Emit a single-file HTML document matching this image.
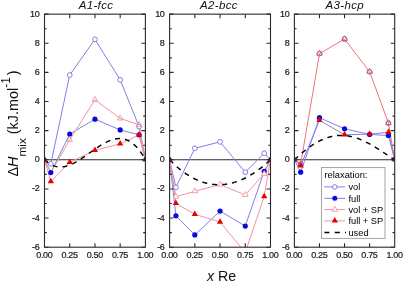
<!DOCTYPE html><html><head><meta charset="utf-8"><style>html,body{margin:0;padding:0;background:#fff;width:403px;height:281px;overflow:hidden}svg{display:block;filter:blur(0.3px)}text{font-family:"Liberation Sans",sans-serif}</style></head><body>
<svg width="403" height="281" viewBox="0 0 403 281">
<defs><clipPath id="c0"><rect x="44.50" y="14.15" width="100.90" height="233.05"/></clipPath></defs>
<line x1="44.50" y1="159.81" x2="145.40" y2="159.81" stroke="#2a2a2a" stroke-width="1.1"/>
<g clip-path="url(#c0)">
<polyline points="44.50,159.81 50.81,163.88 69.72,75.03 94.95,39.35 120.18,79.84 139.09,126.60 145.40,159.81" fill="none" stroke="#8080e4" stroke-width="1.0"/>
<polyline points="44.50,159.81 50.81,172.62 69.72,134.03 94.95,119.17 120.18,129.95 139.09,134.75 145.40,159.81" fill="none" stroke="#8080e4" stroke-width="1.0"/>
<polyline points="44.50,159.81 50.81,172.62 69.72,139.85 94.95,99.80 120.18,118.44 139.09,124.85 145.40,159.81" fill="none" stroke="#ee94a0" stroke-width="1.0"/>
<polyline points="44.50,159.81 50.81,181.65 69.72,162.28 94.95,150.34 120.18,143.78 139.09,134.90 145.40,159.81" fill="none" stroke="#ee94a0" stroke-width="1.0"/>
<polyline points="44.50,159.81 45.51,160.75 46.52,161.62 47.53,162.42 48.54,163.14 49.55,163.80 50.55,164.39 51.56,164.91 52.57,165.37 53.58,165.77 54.59,166.11 55.60,166.38 56.61,166.60 57.62,166.77 58.63,166.88 59.63,166.94 60.64,166.94 61.65,166.90 62.66,166.81 63.67,166.68 64.68,166.50 65.69,166.28 66.70,166.02 67.71,165.72 68.72,165.38 69.72,165.01 70.73,164.60 71.74,164.16 72.75,163.70 73.76,163.20 74.77,162.68 75.78,162.13 76.79,161.55 77.80,160.96 78.81,160.34 79.81,159.71 80.82,159.06 81.83,158.39 82.84,157.72 83.85,157.03 84.86,156.32 85.87,155.62 86.88,154.90 87.89,154.18 88.90,153.46 89.91,152.73 90.91,152.00 91.92,151.28 92.93,150.56 93.94,149.85 94.95,149.14 95.96,148.44 96.97,147.75 97.98,147.07 98.99,146.41 100.00,145.76 101.00,145.13 102.01,144.51 103.02,143.92 104.03,143.35 105.04,142.80 106.05,142.28 107.06,141.79 108.07,141.32 109.08,140.89 110.09,140.48 111.09,140.12 112.10,139.78 113.11,139.49 114.12,139.23 115.13,139.01 116.14,138.84 117.15,138.71 118.16,138.62 119.17,138.59 120.18,138.60 121.18,138.66 122.19,138.78 123.20,138.95 124.21,139.17 125.22,139.46 126.23,139.80 127.24,140.20 128.25,140.67 129.26,141.20 130.26,141.79 131.27,142.46 132.28,143.19 133.29,144.00 134.30,144.87 135.31,145.82 136.32,146.85 137.33,147.96 138.34,149.14 139.35,150.41 140.36,151.76 141.36,153.19 142.37,154.71 143.38,156.32 144.39,158.02 145.40,159.81" fill="none" stroke="#000" stroke-width="1.45" stroke-dasharray="5,5"/>
<circle cx="50.81" cy="163.88" r="2.4" fill="#fff" stroke="#8080e4" stroke-width="1"/>
<circle cx="69.72" cy="75.03" r="2.4" fill="#fff" stroke="#8080e4" stroke-width="1"/>
<circle cx="94.95" cy="39.35" r="2.4" fill="#fff" stroke="#8080e4" stroke-width="1"/>
<circle cx="120.18" cy="79.84" r="2.4" fill="#fff" stroke="#8080e4" stroke-width="1"/>
<circle cx="139.09" cy="126.60" r="2.4" fill="#fff" stroke="#8080e4" stroke-width="1"/>
<circle cx="50.81" cy="172.62" r="2.6" fill="#0a0ad8"/>
<circle cx="69.72" cy="134.03" r="2.6" fill="#0a0ad8"/>
<circle cx="94.95" cy="119.17" r="2.6" fill="#0a0ad8"/>
<circle cx="120.18" cy="129.95" r="2.6" fill="#0a0ad8"/>
<circle cx="139.09" cy="134.75" r="2.6" fill="#0a0ad8"/>
<path d="M69.72,136.49 L72.52,141.36 L66.92,141.36Z" fill="none" stroke="#ee94a0" stroke-width="0.9"/>
<path d="M94.95,96.43 L97.75,101.31 L92.15,101.31Z" fill="none" stroke="#ee94a0" stroke-width="0.9"/>
<path d="M120.18,115.08 L122.98,119.95 L117.38,119.95Z" fill="none" stroke="#ee94a0" stroke-width="0.9"/>
<path d="M139.09,121.49 L141.89,126.36 L136.29,126.36Z" fill="none" stroke="#ee94a0" stroke-width="0.9"/>
<path d="M50.81,177.87 L53.96,183.35 L47.66,183.35Z" fill="#e80000" stroke="none" stroke-width="0.9"/>
<path d="M69.72,158.50 L72.88,163.98 L66.57,163.98Z" fill="#e80000" stroke="none" stroke-width="0.9"/>
<path d="M94.95,146.56 L98.10,152.04 L91.80,152.04Z" fill="#e80000" stroke="none" stroke-width="0.9"/>
<path d="M120.18,140.00 L123.33,145.48 L117.03,145.48Z" fill="#e80000" stroke="none" stroke-width="0.9"/>
<path d="M139.09,131.12 L142.24,136.60 L135.94,136.60Z" fill="#e80000" stroke="none" stroke-width="0.9"/>
<path d="M44.50,156.02 L47.65,161.51 L41.35,161.51Z" fill="#c01040" stroke="none" stroke-width="0.9"/>
<circle cx="44.50" cy="159.21" r="2.0" fill="#40102a"/>
<path d="M145.40,156.02 L148.55,161.51 L142.25,161.51Z" fill="#c01040" stroke="none" stroke-width="0.9"/>
<circle cx="145.40" cy="159.21" r="2.0" fill="#40102a"/>
</g>
<rect x="44.50" y="14.15" width="100.90" height="233.05" fill="none" stroke="#2a2a2a" stroke-width="1.1"/>
<path d="M44.50,247.20h4.0M145.40,247.20h-4.0M44.50,232.63h2.2M145.40,232.63h-2.2M44.50,218.07h4.0M145.40,218.07h-4.0M44.50,203.50h2.2M145.40,203.50h-2.2M44.50,188.94h4.0M145.40,188.94h-4.0M44.50,174.37h2.2M145.40,174.37h-2.2M44.50,159.81h4.0M145.40,159.81h-4.0M44.50,145.24h2.2M145.40,145.24h-2.2M44.50,130.67h4.0M145.40,130.67h-4.0M44.50,116.11h2.2M145.40,116.11h-2.2M44.50,101.54h4.0M145.40,101.54h-4.0M44.50,86.98h2.2M145.40,86.98h-2.2M44.50,72.41h4.0M145.40,72.41h-4.0M44.50,57.85h2.2M145.40,57.85h-2.2M44.50,43.28h4.0M145.40,43.28h-4.0M44.50,28.72h2.2M145.40,28.72h-2.2M44.50,14.15h4.0M145.40,14.15h-4.0M69.72,247.20v-4M69.72,14.15v4M94.95,247.20v-4M94.95,14.15v4M120.18,247.20v-4M120.18,14.15v4" stroke="#2a2a2a" stroke-width="1.1" fill="none"/>
<text x="39.40" y="249.70" font-size="9.0" letter-spacing="-0.35" text-anchor="end" fill="#1a1a1a" stroke="#1a1a1a" stroke-width="0.2">-6</text>
<text x="39.40" y="220.57" font-size="9.0" letter-spacing="-0.35" text-anchor="end" fill="#1a1a1a" stroke="#1a1a1a" stroke-width="0.2">-4</text>
<text x="39.40" y="191.44" font-size="9.0" letter-spacing="-0.35" text-anchor="end" fill="#1a1a1a" stroke="#1a1a1a" stroke-width="0.2">-2</text>
<text x="39.40" y="162.31" font-size="9.0" letter-spacing="-0.35" text-anchor="end" fill="#1a1a1a" stroke="#1a1a1a" stroke-width="0.2">0</text>
<text x="39.40" y="133.17" font-size="9.0" letter-spacing="-0.35" text-anchor="end" fill="#1a1a1a" stroke="#1a1a1a" stroke-width="0.2">2</text>
<text x="39.40" y="104.04" font-size="9.0" letter-spacing="-0.35" text-anchor="end" fill="#1a1a1a" stroke="#1a1a1a" stroke-width="0.2">4</text>
<text x="39.40" y="74.91" font-size="9.0" letter-spacing="-0.35" text-anchor="end" fill="#1a1a1a" stroke="#1a1a1a" stroke-width="0.2">6</text>
<text x="39.40" y="45.78" font-size="9.0" letter-spacing="-0.35" text-anchor="end" fill="#1a1a1a" stroke="#1a1a1a" stroke-width="0.2">8</text>
<text x="39.40" y="16.65" font-size="9.0" letter-spacing="-0.35" text-anchor="end" fill="#1a1a1a" stroke="#1a1a1a" stroke-width="0.2">10</text>
<text x="44.30" y="258.00" font-size="9.0" letter-spacing="-0.35" text-anchor="middle" fill="#1a1a1a" stroke="#1a1a1a" stroke-width="0.2">0.00</text>
<text x="69.52" y="258.00" font-size="9.0" letter-spacing="-0.35" text-anchor="middle" fill="#1a1a1a" stroke="#1a1a1a" stroke-width="0.2">0.25</text>
<text x="94.75" y="258.00" font-size="9.0" letter-spacing="-0.35" text-anchor="middle" fill="#1a1a1a" stroke="#1a1a1a" stroke-width="0.2">0.50</text>
<text x="119.98" y="258.00" font-size="9.0" letter-spacing="-0.35" text-anchor="middle" fill="#1a1a1a" stroke="#1a1a1a" stroke-width="0.2">0.75</text>
<text x="145.20" y="258.00" font-size="9.0" letter-spacing="-0.35" text-anchor="middle" fill="#1a1a1a" stroke="#1a1a1a" stroke-width="0.2">1.00</text>
<text x="96.0" y="8.8" font-size="11.5" font-style="italic" letter-spacing="0.35" text-anchor="middle" fill="#111">A1-fcc</text>
<defs><clipPath id="c1"><rect x="169.60" y="14.15" width="100.90" height="233.05"/></clipPath></defs>
<line x1="169.60" y1="159.81" x2="270.50" y2="159.81" stroke="#2a2a2a" stroke-width="1.1"/>
<g clip-path="url(#c1)">
<polyline points="169.60,159.81 175.91,187.34 194.82,148.30 220.05,141.89 245.28,172.19 264.19,153.25 270.50,159.81" fill="none" stroke="#8080e4" stroke-width="1.0"/>
<polyline points="169.60,159.81 175.91,215.74 194.82,234.96 220.05,211.08 245.28,226.08 264.19,171.31 270.50,159.81" fill="none" stroke="#8080e4" stroke-width="1.0"/>
<polyline points="169.60,159.81 175.91,196.66 194.82,191.27 220.05,184.57 245.28,194.91 264.19,173.93 270.50,159.81" fill="none" stroke="#ee94a0" stroke-width="1.0"/>
<polyline points="169.60,159.81 175.91,203.36 194.82,214.28 220.05,222.00 245.28,252.59 264.19,196.51 270.50,159.81" fill="none" stroke="#ee94a0" stroke-width="1.0"/>
<polyline points="169.60,159.81 170.61,160.84 171.62,161.85 172.63,162.84 173.64,163.80 174.64,164.74 175.65,165.66 176.66,166.56 177.67,167.43 178.68,168.29 179.69,169.12 180.70,169.92 181.71,170.71 182.72,171.47 183.73,172.21 184.73,172.93 185.74,173.63 186.75,174.30 187.76,174.96 188.77,175.59 189.78,176.20 190.79,176.79 191.80,177.35 192.81,177.90 193.82,178.42 194.82,178.92 195.83,179.40 196.84,179.86 197.85,180.30 198.86,180.72 199.87,181.11 200.88,181.49 201.89,181.84 202.90,182.17 203.91,182.49 204.91,182.78 205.92,183.05 206.93,183.30 207.94,183.52 208.95,183.73 209.96,183.92 210.97,184.09 211.98,184.23 212.99,184.36 214.00,184.47 215.00,184.55 216.01,184.62 217.02,184.66 218.03,184.69 219.04,184.69 220.05,184.68 221.06,184.64 222.07,184.59 223.08,184.51 224.09,184.42 225.09,184.31 226.10,184.17 227.11,184.02 228.12,183.85 229.13,183.66 230.14,183.44 231.15,183.21 232.16,182.96 233.17,182.70 234.18,182.41 235.19,182.10 236.19,181.77 237.20,181.43 238.21,181.07 239.22,180.68 240.23,180.28 241.24,179.86 242.25,179.42 243.26,178.97 244.27,178.49 245.28,178.00 246.28,177.48 247.29,176.95 248.30,176.40 249.31,175.83 250.32,175.25 251.33,174.64 252.34,174.02 253.35,173.38 254.36,172.72 255.37,172.05 256.37,171.35 257.38,170.64 258.39,169.91 259.40,169.17 260.41,168.40 261.42,167.62 262.43,166.82 263.44,166.01 264.45,165.17 265.45,164.32 266.46,163.45 267.47,162.57 268.48,161.66 269.49,160.74 270.50,159.81" fill="none" stroke="#000" stroke-width="1.45" stroke-dasharray="5,5"/>
<circle cx="175.91" cy="187.34" r="2.4" fill="#fff" stroke="#8080e4" stroke-width="1"/>
<circle cx="194.82" cy="148.30" r="2.4" fill="#fff" stroke="#8080e4" stroke-width="1"/>
<circle cx="220.05" cy="141.89" r="2.4" fill="#fff" stroke="#8080e4" stroke-width="1"/>
<circle cx="245.28" cy="172.19" r="2.4" fill="#fff" stroke="#8080e4" stroke-width="1"/>
<circle cx="264.19" cy="153.25" r="2.4" fill="#fff" stroke="#8080e4" stroke-width="1"/>
<circle cx="175.91" cy="215.74" r="2.6" fill="#0a0ad8"/>
<circle cx="194.82" cy="234.96" r="2.6" fill="#0a0ad8"/>
<circle cx="220.05" cy="211.08" r="2.6" fill="#0a0ad8"/>
<circle cx="245.28" cy="226.08" r="2.6" fill="#0a0ad8"/>
<circle cx="264.19" cy="171.31" r="2.6" fill="#0a0ad8"/>
<path d="M175.91,193.30 L178.71,198.17 L173.11,198.17Z" fill="#fff" stroke="#ee94a0" stroke-width="0.9"/>
<path d="M194.82,187.91 L197.62,192.78 L192.02,192.78Z" fill="#fff" stroke="#ee94a0" stroke-width="0.9"/>
<path d="M220.05,181.21 L222.85,186.08 L217.25,186.08Z" fill="#fff" stroke="#ee94a0" stroke-width="0.9"/>
<path d="M245.28,191.55 L248.08,196.42 L242.47,196.42Z" fill="#fff" stroke="#ee94a0" stroke-width="0.9"/>
<path d="M264.19,170.57 L266.99,175.45 L261.39,175.45Z" fill="#fff" stroke="#ee94a0" stroke-width="0.9"/>
<path d="M175.91,199.58 L179.06,205.06 L172.76,205.06Z" fill="#e80000" stroke="none" stroke-width="0.9"/>
<path d="M194.82,210.50 L197.97,215.98 L191.67,215.98Z" fill="#e80000" stroke="none" stroke-width="0.9"/>
<path d="M220.05,218.22 L223.20,223.70 L216.90,223.70Z" fill="#e80000" stroke="none" stroke-width="0.9"/>
<path d="M245.28,248.81 L248.43,254.29 L242.12,254.29Z" fill="#e80000" stroke="none" stroke-width="0.9"/>
<path d="M264.19,192.73 L267.34,198.21 L261.04,198.21Z" fill="#e80000" stroke="none" stroke-width="0.9"/>
<path d="M169.60,156.02 L172.75,161.51 L166.45,161.51Z" fill="#c01040" stroke="none" stroke-width="0.9"/>
<circle cx="169.60" cy="159.21" r="2.0" fill="#40102a"/>
<path d="M270.50,156.02 L273.65,161.51 L267.35,161.51Z" fill="#c01040" stroke="none" stroke-width="0.9"/>
<circle cx="270.50" cy="159.21" r="2.0" fill="#40102a"/>
</g>
<rect x="169.60" y="14.15" width="100.90" height="233.05" fill="none" stroke="#2a2a2a" stroke-width="1.1"/>
<path d="M169.60,247.20h4.0M270.50,247.20h-4.0M169.60,232.63h2.2M270.50,232.63h-2.2M169.60,218.07h4.0M270.50,218.07h-4.0M169.60,203.50h2.2M270.50,203.50h-2.2M169.60,188.94h4.0M270.50,188.94h-4.0M169.60,174.37h2.2M270.50,174.37h-2.2M169.60,159.81h4.0M270.50,159.81h-4.0M169.60,145.24h2.2M270.50,145.24h-2.2M169.60,130.67h4.0M270.50,130.67h-4.0M169.60,116.11h2.2M270.50,116.11h-2.2M169.60,101.54h4.0M270.50,101.54h-4.0M169.60,86.98h2.2M270.50,86.98h-2.2M169.60,72.41h4.0M270.50,72.41h-4.0M169.60,57.85h2.2M270.50,57.85h-2.2M169.60,43.28h4.0M270.50,43.28h-4.0M169.60,28.72h2.2M270.50,28.72h-2.2M169.60,14.15h4.0M270.50,14.15h-4.0M194.82,247.20v-4M194.82,14.15v4M220.05,247.20v-4M220.05,14.15v4M245.28,247.20v-4M245.28,14.15v4" stroke="#2a2a2a" stroke-width="1.1" fill="none"/>
<text x="164.50" y="249.70" font-size="9.0" letter-spacing="-0.35" text-anchor="end" fill="#1a1a1a" stroke="#1a1a1a" stroke-width="0.2">-6</text>
<text x="164.50" y="220.57" font-size="9.0" letter-spacing="-0.35" text-anchor="end" fill="#1a1a1a" stroke="#1a1a1a" stroke-width="0.2">-4</text>
<text x="164.50" y="191.44" font-size="9.0" letter-spacing="-0.35" text-anchor="end" fill="#1a1a1a" stroke="#1a1a1a" stroke-width="0.2">-2</text>
<text x="164.50" y="162.31" font-size="9.0" letter-spacing="-0.35" text-anchor="end" fill="#1a1a1a" stroke="#1a1a1a" stroke-width="0.2">0</text>
<text x="164.50" y="133.17" font-size="9.0" letter-spacing="-0.35" text-anchor="end" fill="#1a1a1a" stroke="#1a1a1a" stroke-width="0.2">2</text>
<text x="164.50" y="104.04" font-size="9.0" letter-spacing="-0.35" text-anchor="end" fill="#1a1a1a" stroke="#1a1a1a" stroke-width="0.2">4</text>
<text x="164.50" y="74.91" font-size="9.0" letter-spacing="-0.35" text-anchor="end" fill="#1a1a1a" stroke="#1a1a1a" stroke-width="0.2">6</text>
<text x="164.50" y="45.78" font-size="9.0" letter-spacing="-0.35" text-anchor="end" fill="#1a1a1a" stroke="#1a1a1a" stroke-width="0.2">8</text>
<text x="164.50" y="16.65" font-size="9.0" letter-spacing="-0.35" text-anchor="end" fill="#1a1a1a" stroke="#1a1a1a" stroke-width="0.2">10</text>
<text x="169.40" y="258.00" font-size="9.0" letter-spacing="-0.35" text-anchor="middle" fill="#1a1a1a" stroke="#1a1a1a" stroke-width="0.2">0.00</text>
<text x="194.62" y="258.00" font-size="9.0" letter-spacing="-0.35" text-anchor="middle" fill="#1a1a1a" stroke="#1a1a1a" stroke-width="0.2">0.25</text>
<text x="219.85" y="258.00" font-size="9.0" letter-spacing="-0.35" text-anchor="middle" fill="#1a1a1a" stroke="#1a1a1a" stroke-width="0.2">0.50</text>
<text x="245.08" y="258.00" font-size="9.0" letter-spacing="-0.35" text-anchor="middle" fill="#1a1a1a" stroke="#1a1a1a" stroke-width="0.2">0.75</text>
<text x="270.30" y="258.00" font-size="9.0" letter-spacing="-0.35" text-anchor="middle" fill="#1a1a1a" stroke="#1a1a1a" stroke-width="0.2">1.00</text>
<text x="218.9" y="8.8" font-size="11.5" font-style="italic" letter-spacing="0.35" text-anchor="middle" fill="#111">A2-bcc</text>
<defs><clipPath id="c2"><rect x="294.40" y="14.15" width="100.30" height="233.05"/></clipPath></defs>
<line x1="294.40" y1="159.81" x2="394.70" y2="159.81" stroke="#2a2a2a" stroke-width="1.1"/>
<g clip-path="url(#c2)">
<polyline points="294.40,159.81 300.67,172.19 319.47,117.71 344.55,128.78 369.62,134.46 388.43,135.48 394.70,159.81" fill="none" stroke="#8080e4" stroke-width="1.0"/>
<polyline points="294.40,159.81 300.67,164.18 319.47,53.62 344.55,39.06 369.62,71.68 388.43,123.10 394.70,159.81" fill="none" stroke="#f07078" stroke-width="1.0"/>
<polyline points="294.40,159.81 300.67,165.78 319.47,120.33 344.55,134.75 369.62,134.17 388.43,132.28 394.70,159.81" fill="none" stroke="#8080e4" stroke-width="1.0"/>
<polyline points="294.40,159.81 295.40,158.86 296.41,157.93 297.41,157.01 298.41,156.11 299.41,155.22 300.42,154.34 301.42,153.47 302.42,152.62 303.43,151.79 304.43,150.97 305.43,150.18 306.44,149.39 307.44,148.63 308.44,147.88 309.44,147.15 310.45,146.44 311.45,145.75 312.45,145.09 313.46,144.44 314.46,143.81 315.46,143.20 316.47,142.61 317.47,142.05 318.47,141.50 319.47,140.98 320.48,140.48 321.48,140.01 322.48,139.55 323.49,139.12 324.49,138.72 325.49,138.33 326.50,137.97 327.50,137.63 328.50,137.32 329.50,137.03 330.51,136.76 331.51,136.52 332.51,136.31 333.52,136.11 334.52,135.94 335.52,135.80 336.53,135.67 337.53,135.58 338.53,135.50 339.53,135.45 340.54,135.43 341.54,135.42 342.54,135.44 343.55,135.49 344.55,135.55 345.55,135.64 346.56,135.76 347.56,135.89 348.56,136.05 349.56,136.23 350.57,136.43 351.57,136.66 352.57,136.90 353.58,137.17 354.58,137.45 355.58,137.76 356.59,138.08 357.59,138.43 358.59,138.79 359.59,139.18 360.60,139.58 361.60,140.00 362.60,140.44 363.61,140.89 364.61,141.36 365.61,141.84 366.62,142.34 367.62,142.86 368.62,143.39 369.62,143.93 370.63,144.49 371.63,145.06 372.63,145.64 373.64,146.23 374.64,146.83 375.64,147.44 376.65,148.06 377.65,148.68 378.65,149.32 379.65,149.96 380.66,150.61 381.66,151.26 382.66,151.92 383.67,152.58 384.67,153.24 385.67,153.90 386.68,154.57 387.68,155.23 388.68,155.90 389.69,156.56 390.69,157.22 391.69,157.87 392.69,158.52 393.70,159.17 394.70,159.81" fill="none" stroke="#000" stroke-width="1.45" stroke-dasharray="5,5"/>
<circle cx="300.67" cy="164.18" r="2.4" fill="none" stroke="#9a5aa8" stroke-width="1"/>
<circle cx="319.47" cy="53.62" r="2.4" fill="none" stroke="#9a5aa8" stroke-width="1"/>
<circle cx="344.55" cy="39.06" r="2.4" fill="none" stroke="#9a5aa8" stroke-width="1"/>
<circle cx="369.62" cy="71.68" r="2.4" fill="none" stroke="#9a5aa8" stroke-width="1"/>
<circle cx="388.43" cy="123.10" r="2.4" fill="none" stroke="#9a5aa8" stroke-width="1"/>
<circle cx="300.67" cy="172.19" r="2.6" fill="#0a0ad8"/>
<circle cx="319.47" cy="117.71" r="2.6" fill="#0a0ad8"/>
<circle cx="344.55" cy="128.78" r="2.6" fill="#0a0ad8"/>
<circle cx="369.62" cy="134.46" r="2.6" fill="#0a0ad8"/>
<circle cx="388.43" cy="135.48" r="2.6" fill="#0a0ad8"/>
<path d="M300.67,160.81 L303.47,165.69 L297.87,165.69Z" fill="none" stroke="#c0608a" stroke-width="0.9"/>
<path d="M319.47,50.26 L322.27,55.13 L316.67,55.13Z" fill="none" stroke="#c0608a" stroke-width="0.9"/>
<path d="M344.55,35.70 L347.35,40.57 L341.75,40.57Z" fill="none" stroke="#c0608a" stroke-width="0.9"/>
<path d="M369.62,68.32 L372.43,73.19 L366.82,73.19Z" fill="none" stroke="#c0608a" stroke-width="0.9"/>
<path d="M388.43,119.74 L391.23,124.61 L385.63,124.61Z" fill="none" stroke="#c0608a" stroke-width="0.9"/>
<path d="M300.67,162.00 L303.82,167.48 L297.52,167.48Z" fill="#e80000" stroke="none" stroke-width="0.9"/>
<path d="M319.47,116.55 L322.62,122.03 L316.32,122.03Z" fill="#e80000" stroke="none" stroke-width="0.9"/>
<path d="M344.55,130.97 L347.70,136.45 L341.40,136.45Z" fill="#e80000" stroke="none" stroke-width="0.9"/>
<path d="M369.62,130.39 L372.77,135.87 L366.48,135.87Z" fill="#e80000" stroke="none" stroke-width="0.9"/>
<path d="M388.43,128.50 L391.58,133.98 L385.28,133.98Z" fill="#e80000" stroke="none" stroke-width="0.9"/>
<path d="M294.40,156.02 L297.55,161.51 L291.25,161.51Z" fill="#c01040" stroke="none" stroke-width="0.9"/>
<circle cx="294.40" cy="159.21" r="2.0" fill="#40102a"/>
<path d="M394.70,156.02 L397.85,161.51 L391.55,161.51Z" fill="#c01040" stroke="none" stroke-width="0.9"/>
<circle cx="394.70" cy="159.21" r="2.0" fill="#40102a"/>
</g>
<rect x="294.40" y="14.15" width="100.30" height="233.05" fill="none" stroke="#2a2a2a" stroke-width="1.1"/>
<path d="M294.40,247.20h4.0M394.70,247.20h-4.0M294.40,232.63h2.2M394.70,232.63h-2.2M294.40,218.07h4.0M394.70,218.07h-4.0M294.40,203.50h2.2M394.70,203.50h-2.2M294.40,188.94h4.0M394.70,188.94h-4.0M294.40,174.37h2.2M394.70,174.37h-2.2M294.40,159.81h4.0M394.70,159.81h-4.0M294.40,145.24h2.2M394.70,145.24h-2.2M294.40,130.67h4.0M394.70,130.67h-4.0M294.40,116.11h2.2M394.70,116.11h-2.2M294.40,101.54h4.0M394.70,101.54h-4.0M294.40,86.98h2.2M394.70,86.98h-2.2M294.40,72.41h4.0M394.70,72.41h-4.0M294.40,57.85h2.2M394.70,57.85h-2.2M294.40,43.28h4.0M394.70,43.28h-4.0M294.40,28.72h2.2M394.70,28.72h-2.2M294.40,14.15h4.0M394.70,14.15h-4.0M319.47,247.20v-4M319.47,14.15v4M344.55,247.20v-4M344.55,14.15v4M369.62,247.20v-4M369.62,14.15v4" stroke="#2a2a2a" stroke-width="1.1" fill="none"/>
<text x="289.30" y="249.70" font-size="9.0" letter-spacing="-0.35" text-anchor="end" fill="#1a1a1a" stroke="#1a1a1a" stroke-width="0.2">-6</text>
<text x="289.30" y="220.57" font-size="9.0" letter-spacing="-0.35" text-anchor="end" fill="#1a1a1a" stroke="#1a1a1a" stroke-width="0.2">-4</text>
<text x="289.30" y="191.44" font-size="9.0" letter-spacing="-0.35" text-anchor="end" fill="#1a1a1a" stroke="#1a1a1a" stroke-width="0.2">-2</text>
<text x="289.30" y="162.31" font-size="9.0" letter-spacing="-0.35" text-anchor="end" fill="#1a1a1a" stroke="#1a1a1a" stroke-width="0.2">0</text>
<text x="289.30" y="133.17" font-size="9.0" letter-spacing="-0.35" text-anchor="end" fill="#1a1a1a" stroke="#1a1a1a" stroke-width="0.2">2</text>
<text x="289.30" y="104.04" font-size="9.0" letter-spacing="-0.35" text-anchor="end" fill="#1a1a1a" stroke="#1a1a1a" stroke-width="0.2">4</text>
<text x="289.30" y="74.91" font-size="9.0" letter-spacing="-0.35" text-anchor="end" fill="#1a1a1a" stroke="#1a1a1a" stroke-width="0.2">6</text>
<text x="289.30" y="45.78" font-size="9.0" letter-spacing="-0.35" text-anchor="end" fill="#1a1a1a" stroke="#1a1a1a" stroke-width="0.2">8</text>
<text x="289.30" y="16.65" font-size="9.0" letter-spacing="-0.35" text-anchor="end" fill="#1a1a1a" stroke="#1a1a1a" stroke-width="0.2">10</text>
<text x="294.20" y="258.00" font-size="9.0" letter-spacing="-0.35" text-anchor="middle" fill="#1a1a1a" stroke="#1a1a1a" stroke-width="0.2">0.00</text>
<text x="319.27" y="258.00" font-size="9.0" letter-spacing="-0.35" text-anchor="middle" fill="#1a1a1a" stroke="#1a1a1a" stroke-width="0.2">0.25</text>
<text x="344.35" y="258.00" font-size="9.0" letter-spacing="-0.35" text-anchor="middle" fill="#1a1a1a" stroke="#1a1a1a" stroke-width="0.2">0.50</text>
<text x="369.43" y="258.00" font-size="9.0" letter-spacing="-0.35" text-anchor="middle" fill="#1a1a1a" stroke="#1a1a1a" stroke-width="0.2">0.75</text>
<text x="394.50" y="258.00" font-size="9.0" letter-spacing="-0.35" text-anchor="middle" fill="#1a1a1a" stroke="#1a1a1a" stroke-width="0.2">1.00</text>
<text x="344.8" y="8.8" font-size="11.5" font-style="italic" letter-spacing="0.35" text-anchor="middle" fill="#111">A3-hcp</text>
<rect x="321.5" y="167.6" width="63.5" height="70.80000000000001" fill="#fff" stroke="#9a9a9a" stroke-width="0.9"/>
<text x="324.5" y="178.4" font-size="9.3" fill="#000">relaxation:</text>
<text x="348.4" y="190.20" font-size="9.3" fill="#000">vol</text>
<text x="348.4" y="201.60" font-size="9.3" fill="#000">full</text>
<text x="348.4" y="212.90" font-size="9.3" fill="#000">vol + SP</text>
<text x="348.4" y="224.20" font-size="9.3" fill="#000">full + SP</text>
<text x="348.4" y="235.70" font-size="9.3" fill="#000">used</text>
<line x1="324.4" y1="186.9" x2="345" y2="186.9" stroke="#8080e4" stroke-width="1"/>
<circle cx="334.8" cy="186.9" r="2.3" fill="#fff" stroke="#8080e4" stroke-width="1"/>
<line x1="324.4" y1="198.3" x2="345" y2="198.3" stroke="#8080e4" stroke-width="1"/>
<circle cx="334.8" cy="198.3" r="2.5" fill="#0a0ad8"/>
<line x1="324.4" y1="209.6" x2="345" y2="209.6" stroke="#ee94a0" stroke-width="1"/>
<path d="M334.80,206.12 L337.70,211.16 L331.90,211.16Z" fill="#fff" stroke="#ee94a0" stroke-width="0.9"/>
<line x1="324.4" y1="220.9" x2="345" y2="220.9" stroke="#ee94a0" stroke-width="1"/>
<path d="M334.80,217.12 L337.95,222.60 L331.65,222.60Z" fill="#e80000" stroke="none" stroke-width="0.9"/>
<path d="M324.4,232.5h5M334.8,232.5h5M345,232.5h1" stroke="#000" stroke-width="1.3"/>
<text x="221.6" y="280.8" font-size="14.2" text-anchor="middle" fill="#111"><tspan font-style="italic">x</tspan> Re</text>
<text transform="translate(17.6,176.6) rotate(-90)" x="0" y="0" font-size="14.4" fill="#111">&#916;<tspan font-style="italic">H</tspan><tspan font-size="11.8" dy="8">mix</tspan><tspan dy="-8"> (kJ.mol</tspan><tspan font-size="12" dy="-8">-1</tspan><tspan dy="8" dx="2">)</tspan></text>
</svg></body></html>
